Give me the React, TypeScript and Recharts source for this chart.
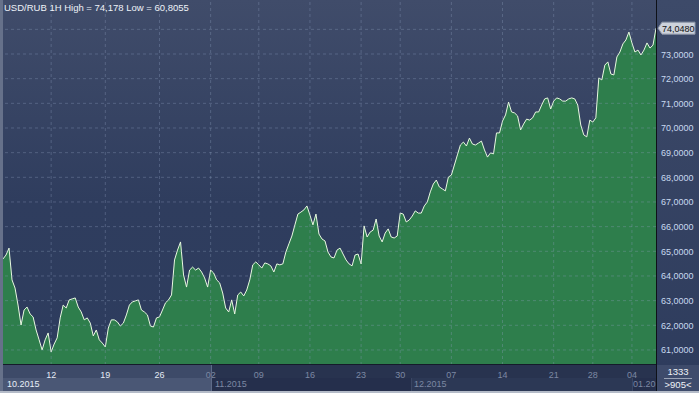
import React from 'react'
import { AreaChart, Area, XAxis, YAxis, ReferenceLine } from 'recharts'

// USD/RUB hourly closes (one value per ~3px)
const rates = [
  64.69, 64.85, 65.13, 63.84, 63.51, 62.82, 62.01, 62.62, 62.74, 62.46,
  62.34, 61.81, 61.41, 61.0, 61.41, 61.69, 60.92, 61.24, 61.49, 62.3,
  62.82, 62.7, 63.03, 63.07, 63.11, 62.74, 62.54, 62.22, 62.3, 62.09,
  61.57, 61.81, 61.41, 61.28, 61.12, 61.89, 62.22, 62.22, 62.14, 61.97,
  62.09, 62.42, 62.82, 62.95, 62.99, 63.03, 62.62, 62.54, 62.42, 61.97,
  61.93, 62.3, 62.34, 62.62, 62.91, 63.03, 63.23, 64.65, 65.05, 65.38,
  64.04, 63.55, 64.24, 64.36, 64.24, 64.32, 64.16, 63.92, 63.55, 64.24,
  64.12, 63.84, 63.72, 63.31, 62.7, 62.54, 63.03, 62.46, 63.23, 63.35,
  63.19, 63.43, 63.84, 64.45, 64.57, 64.45, 64.32, 64.53, 64.49, 64.41,
  64.16, 64.49, 64.45, 64.49, 64.97, 65.3, 65.62, 66.07, 66.51, 66.59,
  66.68, 66.84, 66.47, 66.07, 66.51, 65.7, 65.5, 65.42, 64.97, 64.77,
  64.73, 65.05, 65.13, 64.89, 64.65, 64.49, 64.41, 64.85, 64.89, 64.49,
  66.03, 65.58, 65.78, 65.86, 66.31, 65.62, 65.38, 65.74, 65.91, 65.58,
  65.54, 65.62, 66.55, 66.51, 66.19, 66.27, 66.43, 66.64, 66.55, 66.55,
  66.84, 67.0, 67.41, 67.73, 67.89, 67.61, 67.53, 67.45, 68.01, 68.09,
  68.5, 68.91, 69.31, 69.43, 69.27, 69.59, 69.35, 69.31, 69.39, 69.47,
  69.11, 68.82, 68.99, 68.95, 69.8, 69.8, 70.28, 70.53, 71.05, 70.65,
  70.61, 70.49, 69.92, 70.16, 70.36, 70.32, 70.41, 70.65, 70.65, 70.93,
  71.18, 71.22, 70.77, 71.09, 71.22, 71.18, 71.09, 71.09, 71.18, 71.22,
  71.18, 70.93, 70.12, 69.72, 69.64, 70.32, 70.24, 70.41, 72.03, 71.95,
  72.55, 72.68, 72.19, 72.15, 72.88, 73.08, 73.41, 73.57, 73.89, 73.45,
  73.08, 73.16, 72.96, 73.16, 73.45, 73.24, 73.36, 74.048,
]

const dayTickIdx = [16, 34, 52, 69, 85, 102, 119, 132, 149, 166, 183, 196, 209]
const dayTickLabels = ['12', '19', '26', '02', '09', '16', '23', '30', '07', '14', '21', '28', '04']
const priceTicks = [61, 62, 63, 64, 65, 66, 67, 68, 69, 70, 71, 72, 73, 74]
const monthLabels = ['10.2015', '11.2015', '12.2015', '01.20']
const title = 'USD/RUB 1H High = 74,178 Low = 60,8055'
const counterTop = '1333'
const counterBottom = '>905<'

const data = rates.map((v, i) => ({ i, v }))
const lastRate = rates[rates.length - 1]
const fmt = (v: number) => v.toFixed(4).replace('.', ',')

const FONT = '"Liberation Sans", Arial, sans-serif'
const GRID = 'rgba(140,158,190,0.35)'

const DayTick = (props: any) => {
  const { x, y, payload } = props
  const k = dayTickIdx.indexOf(payload.value)
  const bright = payload.value < dayTickIdx[3]
  return (
    <text x={x} y={y + 11} textAnchor="middle" fontSize={9} fontFamily={FONT} fill={bright ? '#e4eaf5' : '#7c88a3'}>
      {dayTickLabels[k]}
    </text>
  )
}

const PriceTick = (props: any) => {
  const { x, y, payload } = props
  if (payload.value === 74) return null
  return (
    <text x={x + 3} y={y + 3.5} textAnchor="start" fontSize={9} fontFamily={FONT} fill="#c8d9f0">
      {fmt(payload.value)}
    </text>
  )
}

const PriceTag = (props: any) => {
  const vb = props.viewBox
  if (!vb) return null
  const x = vb.x + vb.width
  const y = vb.y
  return (
    <g>
      <path
        d={`M${x + 2},${y} L${x + 6},${y - 6} L${x + 39},${y - 6} L${x + 39},${y + 6} L${x + 6},${y + 6} Z`}
        fill="#cdd2db"
        stroke="#8c95a8"
      />
      <text x={x + 6} y={y + 3.5} fontSize={9} fontFamily={FONT} fill="#111">
        {fmt(lastRate)}
      </text>
    </g>
  )
}

const abs = (s: React.CSSProperties): React.CSSProperties => ({ position: 'absolute', ...s })

export default function App() {
  return (
    <div style={abs({ left: 0, top: 0, width: 699, height: 393, overflow: 'hidden', background: '#263150', fontFamily: FONT })}>
      <div style={abs({ left: 3, top: 0, width: 653, height: 365, background: 'linear-gradient(#404c6a, #2f3d5e 55%, #2d3c5e)' })} />
      <div style={abs({ left: 657, top: 0, width: 42, height: 365, background: 'linear-gradient(#3d4a69, #2e3c5d)' })} />
      {/* bottom axis rows */}
      <div style={abs({ left: 3, top: 365, width: 208, height: 13, background: '#3d4a68' })} />
      <div style={abs({ left: 3, top: 378, width: 208, height: 13, background: '#4a5775' })} />
      <div style={abs({ left: 211, top: 365, width: 445, height: 13, background: '#28334f' })} />
      <div style={abs({ left: 211, top: 378, width: 445, height: 13, background: '#252f4c' })} />
      <div style={abs({ left: 411, top: 378, width: 220, height: 13, background: '#2c3855', borderLeft: '1px solid #3a4663', borderRight: '1px solid #3a4663' })} />

      <div style={abs({ left: 0, top: 0 })}>
        <AreaChart width={699} height={393} data={data} margin={{ top: 0, right: 0, left: 3, bottom: 0 }}>
          <XAxis
            dataKey="i"
            type="number"
            domain={[0, rates.length - 1]}
            ticks={dayTickIdx}
            interval={0}
            height={28}
            axisLine={false}
            tickLine={false}
            tickSize={0}
            tick={<DayTick />}
          />
          <YAxis
            orientation="right"
            type="number"
            domain={[60.39, 75.19]}
            ticks={priceTicks}
            interval={0}
            width={43}
            axisLine={false}
            tickLine={false}
            tickSize={0}
            tick={<PriceTick />}
            allowDataOverflow
          />
          <Area
            type="linear"
            dataKey="v"
            stroke="#e9f9e1"
            strokeWidth={1}
            fill="#2e7e4c"
            fillOpacity={1}
            dot={false}
            activeDot={false}
            isAnimationActive={false}
          />
          {priceTicks.map((p) => (
            <ReferenceLine key={'h' + p} y={p} stroke={GRID} strokeDasharray="3 3" />
          ))}
          {dayTickIdx.map((d) => (
            <ReferenceLine key={'v' + d} x={d} stroke={GRID} strokeDasharray="3 3" />
          ))}
          <ReferenceLine y={lastRate} stroke="none" label={<PriceTag />} />
        </AreaChart>
      </div>

      {/* overlays */}
      <div style={abs({ left: 3, top: 364, width: 653, height: 1, background: '#151b2a' })} />
      <div style={abs({ left: 656, top: 0, width: 1, height: 391, background: '#0e1118' })} />
      <div style={abs({ left: 211, top: 365, width: 1, height: 26, background: '#5d6a88' })} />
      <div style={abs({ left: 4, top: 2, fontSize: 9.5, color: '#eef2f8', whiteSpace: 'nowrap' })}>{title}</div>
      <div style={abs({ left: 7, top: 379, fontSize: 9, color: '#e8eef8' })}>{monthLabels[0]}</div>
      <div style={abs({ left: 215, top: 379, fontSize: 9, color: '#7c88a3' })}>{monthLabels[1]}</div>
      <div style={abs({ left: 414, top: 379, fontSize: 9, color: '#7c88a3' })}>{monthLabels[2]}</div>
      <div style={abs({ left: 633, top: 379, fontSize: 9, color: '#7c88a3', whiteSpace: 'nowrap' })}>{monthLabels[3]}</div>
      <div style={abs({ left: 657, top: 365, width: 42, height: 26, background: '#3e4b6b' })}>
        <div style={abs({ left: 0, top: 1, width: 42, textAlign: 'center', fontSize: 9.5, color: '#f0f3f8' })}>{counterTop}</div>
        <div style={abs({ left: 7, top: 13, width: 28, height: 1, background: '#9aa3b6' })} />
        <div style={abs({ left: 0, top: 14, width: 42, textAlign: 'center', fontSize: 9.5, color: '#f0f3f8' })}>{counterBottom}</div>
      </div>
      <div style={abs({ left: 0, top: 0, width: 3, height: 391, background: '#66718a' })} />
      <div style={abs({ left: 0, top: 391, width: 699, height: 2, background: '#b4bbc8' })} />
    </div>
  )
}
